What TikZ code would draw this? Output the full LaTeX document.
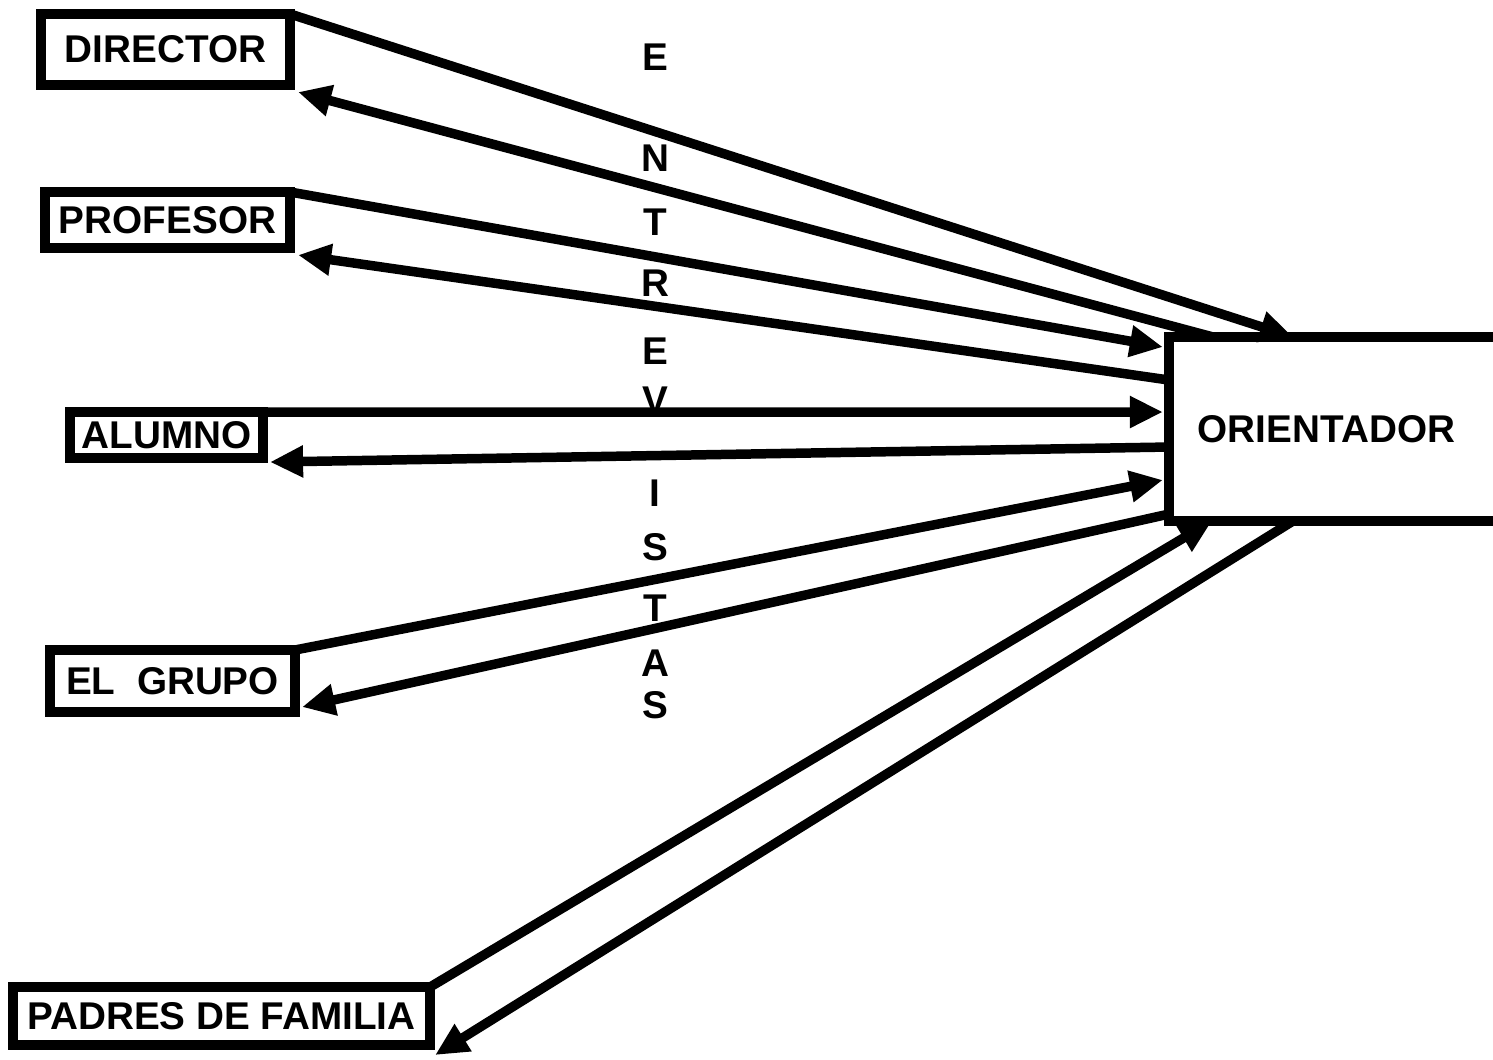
\documentclass[tikz,border=0pt]{standalone}
\usepackage{fontspec}
\setmainfont{Liberation Sans}
\usetikzlibrary{arrows.meta}

\begin{document}
\begin{tikzpicture}[x=0.01cm, y=-0.01cm,
  every node/.style={font=\fontsize{11}{13}\selectfont\bfseries},
  persona/.style={rectangle, draw, line width=2.8pt, inner sep=0pt, outer sep=0pt},
  orientbox/.style={rectangle, draw, line width=2.8pt, outer sep=0pt, inner xsep=0.29cm, text width=3.73cm, align=left, minimum height=1.84cm},
  letra/.style={inner sep=0pt},
  flujo/.style={-{Triangle[length=3.3mm, width=3mm]}, line width=2.7pt}
]
% Marco
\path[use as bounding box] (0,0) rectangle (1493,1059);
\clip (0,0) rectangle (1493,1059);
\fill[white] (0,0) rectangle (1493,1059);
% Personas
\node[persona, minimum width=2.49cm, minimum height=0.71cm] (dir) at (165.5,49.5) {DIRECTOR};
\node[persona, minimum width=2.45cm, minimum height=0.56cm] (prof) at (167.5,220) {PROFESOR};
\node[persona, minimum width=1.93cm, minimum height=0.46cm] (alum) at (166.5,435) {ALUMNO};
\node[persona, minimum width=2.45cm, minimum height=0.62cm] (grupo) at (172.5,681) {EL\ \ GRUPO};
\node[persona, minimum width=4.17cm, minimum height=0.58cm] (padres) at (221.5,1016) {PADRES DE FAMILIA};
\node[orientbox] (ori) at (1384.5,429) {ORIENTADOR};
% Texto vertical
\foreach \ch/\yy [count=\i] in {E/57, N/158, T/222, R/283, E/351, V/400, I/493, S/547, T/608, A/663, S/705}
  \node[letra] (ent\i) at (655,\yy) {\ch};
% Entrevistas
\draw[flujo] (dir.north east) -- ([shift={(124,0)}]ori.north west);
\draw[flujo] ([shift={(44,0)}]ori.north west) -- ([shift={(8,7)}]dir.south east);
\draw[flujo] (prof.north east) -- ([shift={(-6,-82)}]ori.west);
\draw[flujo] ([shift={(0,-49)}]ori.west) -- ([shift={(8,7)}]prof.south east);
\draw[flujo] (alum.north east) -- ([shift={(-6,-17)}]ori.west);
\draw[flujo] ([shift={(0,18)}]ori.west) -- ([shift={(7,4)}]alum.south east);
\draw[flujo] (grupo.north east) -- ([shift={(-6,51)}]ori.west);
\draw[flujo] ([shift={(0,-7)}]ori.south west) -- ([shift={(7,-5)}]grupo.south east);
\draw[flujo] (padres.north east) -- ([shift={(43,0)}]ori.south west);
\draw[flujo] ([shift={(124,0)}]ori.south west) -- ([shift={(5,10)}]padres.south east);
\end{tikzpicture}
\end{document}
